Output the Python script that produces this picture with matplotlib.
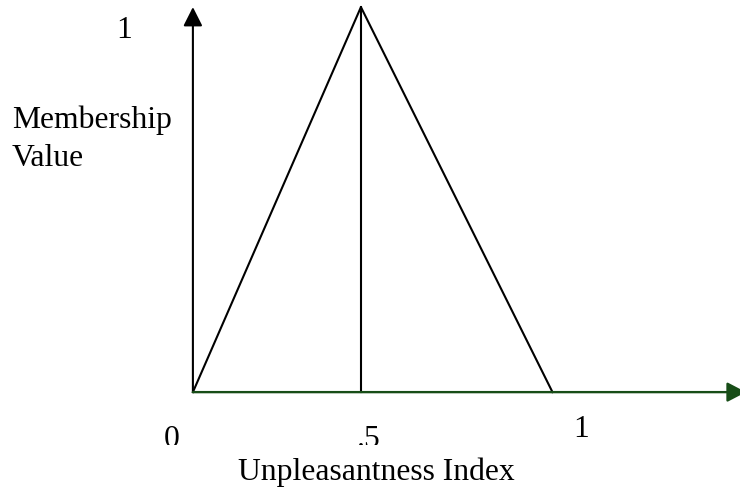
import matplotlib
matplotlib.use('Agg')
import matplotlib.pyplot as plt
from matplotlib.transforms import Bbox

# triangular membership function (x in index units, y in membership value)
tri_x = [0, 0.5, 1.07]
tri_y = [0, 1, 0]
peak_x = 0.5

# tick labels written under the axis, with their positions
tick_labels = ['0', '.5', '1']
tick_x = [-0.0625, 0.524, 1.155]
tick_y = [-0.140, -0.140, -0.114]

axis_green = '#174d17'
serif = 'Liberation Serif'
fs = 22.8

fig = plt.figure(figsize=(7.4, 4.89), dpi=100)
ax = fig.add_axes([0, 0, 1, 1])
ax.set_xlim(-0.574, 1.628)
ax.set_ylim(-0.249, 1.021)
ax.axis('off')

# y axis arrow
ax.annotate('', xy=(0, 1.0), xytext=(0, 0),
            arrowprops=dict(arrowstyle='-|>,head_length=1.15,head_width=0.58',
                            mutation_scale=10, lw=1.5, color='black',
                            shrinkA=0, shrinkB=0))

# triangle and the vertical line at the peak
ax.plot(tri_x, tri_y, color='black', lw=1.5, solid_joinstyle='miter')
ax.plot([peak_x, peak_x], [0, 1], color='black', lw=1.5)

# x axis arrow (green), its tip runs just past the right edge
ax.annotate('', xy=(1.646, 0), xytext=(0, 0), annotation_clip=False,
            arrowprops=dict(arrowstyle='-|>,head_length=1.15,head_width=0.6',
                            mutation_scale=10, lw=1.7, color=axis_green,
                            shrinkA=0, shrinkB=0))

# labels
ax.text(-0.205, 0.922, '1', family=serif, fontsize=fs, ha='center', va='baseline')
ax.text(-0.539, 0.688, 'Membership', family=serif, fontsize=fs, ha='left', va='baseline')
ax.text(-0.539, 0.590, 'Value', family=serif, fontsize=fs, ha='left', va='baseline')

clip = Bbox.from_extents(-0.6, -0.138, 1.7, 1.1)
for lab, xx, yy in zip(tick_labels, tick_x, tick_y):
    t = ax.text(xx, yy, lab, family=serif, fontsize=fs, ha='center', va='baseline')
    if lab != '1':
        # the original picture has these cut off at the bottom
        t.set_clip_box(clip.transformed(ax.transData))
        t.set_clip_on(True)

ax.text(0.134, -0.226, 'Unpleasantness Index', family=serif, fontsize=fs,
        ha='left', va='baseline')

fig.savefig('out.png', dpi=100)
